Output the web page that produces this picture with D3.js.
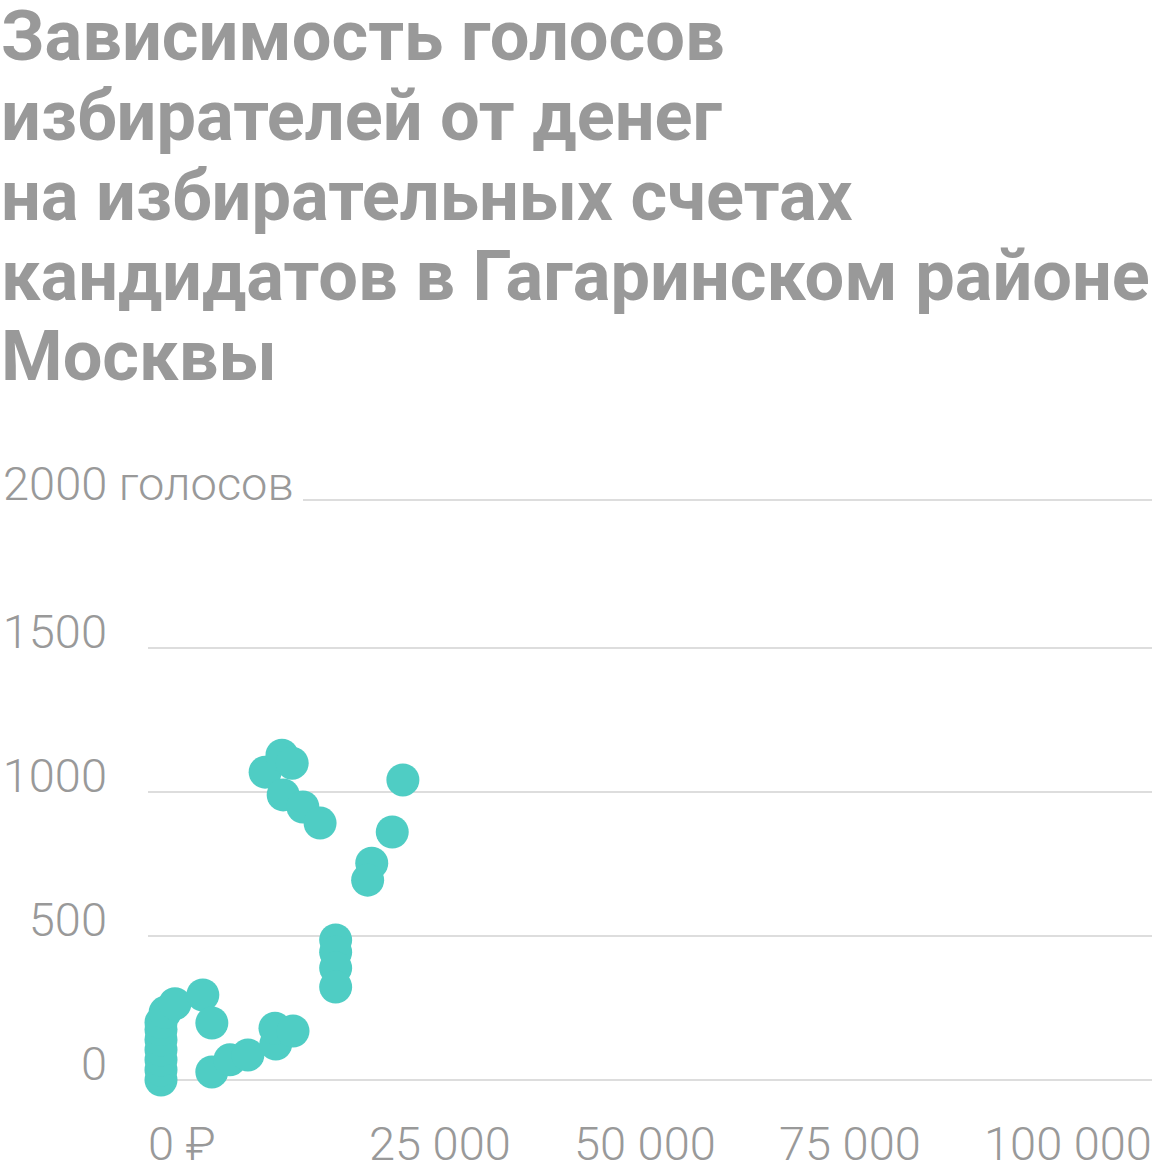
<!DOCTYPE html>
<html>
<head>
<meta charset="utf-8">
<script src="https://cdn.jsdelivr.net/npm/d3@7"></script>
<style>
  html, body { margin: 0; padding: 0; background: #fff; }
  svg { display: block; }
</style>
</head>
<body>
<svg id="chart" width="1160" height="1176"></svg>
<script>
// ---- Data ----
const titleLines = [
  "Зависимость голосов",
  "избирателей от денег",
  "на избирательных счетах",
  "кандидатов в Гагаринском районе",
  "Москвы"
];
// money on electoral account (₽)
const money = [0, 0, 0, 0, 0, 0, 0, 500, 1700, 5100, 6200, 6200, 8400, 10600, 14000, 13900, 16100,
  21300, 21300, 21300, 21300,
  12700, 14750, 16000, 14900, 17300, 19400, 29500, 28200, 25700, 25200];
// votes
const votes = [0, 35, 70, 105, 140, 175, 200, 235, 265, 295, 198, 28, 70, 87, 125, 180, 170,
  486, 444, 389, 323,
  1069, 1128, 1100, 990, 948, 892, 1042, 861, 753, 694];
const yTicks = [0, 500, 1000, 1500, 2000];
const yTickLabels = ["0", "500", "1000", "1500", "2000 голосов"];
const xTicks = [0, 25000, 50000, 75000, 100000];
const xTickLabels = ["0 ₽", "25 000", "50 000", "75 000", "100 000"];

const points = money.map((m, i) => ({ m, v: votes[i] }));

// ---- Layout ----
const svg = d3.select("#chart");
const gray = "#999999";
const font = "Roboto, 'Noto Sans', sans-serif";

const x = d3.scaleLinear().domain([0, 25000]).range([161, 366]);
const y = d3.scaleLinear().domain([0, 2000]).range([1080, 504]);

// Title
const title = svg.append("g")
  .attr("font-family", font)
  .attr("font-weight", 700)
  .attr("font-size", 70.4)
  .attr("fill", gray);
title.selectAll("text").data(titleLines).join("text")
  .attr("x", 1).attr("y", (t, i) => 60 + i * 80).text(t => t);

// Y grid + labels
const yPos = v => y(v) - (v === 2000 ? 4 : 0);
const gy = svg.append("g");
gy.selectAll("line").data(yTicks).join("line")
  .attr("x1", v => v === 2000 ? 303 : 148)
  .attr("x2", 1152)
  .attr("y1", yPos).attr("y2", yPos)
  .attr("stroke", "#dddddd").attr("stroke-width", 2);
gy.selectAll("text").data(yTicks).join("text")
  .attr("x", v => v === 2000 ? 3 : 107)
  .attr("y", yPos)
  .attr("text-anchor", v => v === 2000 ? "start" : "end")
  .attr("font-family", font).attr("font-weight", 300)
  .attr("font-size", 47).attr("fill", gray)
  .text((v, i) => yTickLabels[i]);

// X labels
svg.append("g").selectAll("text").data(xTicks).join("text")
  .attr("x", v => v === 0 ? 148 : x(v) + 3)
  .attr("y", 1160)
  .attr("text-anchor", "start")
  .attr("font-family", font).attr("font-weight", 300)
  .attr("font-size", 47).attr("fill", gray)
  .text((v, i) => xTickLabels[i]);

// Dots
svg.append("g").selectAll("circle").data(points).join("circle")
  .attr("cx", d => x(d.m))
  .attr("cy", d => y(d.v))
  .attr("r", 16.5)
  .attr("fill", "#4fcdc4");
</script>
</body>
</html>
